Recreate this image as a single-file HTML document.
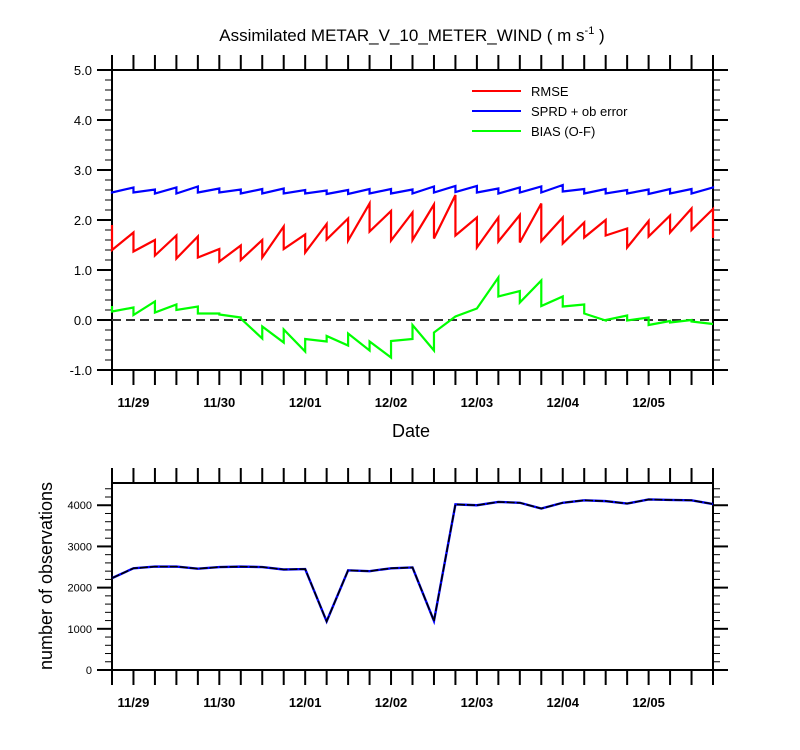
<!DOCTYPE html>
<html><head><meta charset="utf-8"><style>
body{margin:0;background:#fff}
svg{display:block;font-family:"Liberation Sans",Arial,sans-serif}
</style></head><body>
<svg id="chart" width="800" height="750" viewBox="0 0 800 750">
<text x="412" y="41" text-anchor="middle" font-size="17">Assimilated METAR_V_10_METER_WIND ( m s<tspan font-size="11" dy="-7">-1</tspan><tspan dy="7"> )</tspan></text>
<g id="topPanel"></g>
<g id="botPanel"></g>
<text x="411" y="437" text-anchor="middle" font-size="18">Date</text>
<text transform="translate(52,576) rotate(-90)" text-anchor="middle" font-size="18">number of observations</text>
<g>
<line x1="472" y1="91" x2="521" y2="91" stroke="#ff0000" stroke-width="2"/>
<text x="531" y="96" font-size="13">RMSE</text>
<line x1="472" y1="111" x2="521" y2="111" stroke="#0000ff" stroke-width="2"/>
<text x="531" y="116" font-size="13">SPRD + ob error</text>
<line x1="472" y1="131" x2="521" y2="131" stroke="#00ff00" stroke-width="2"/>
<text x="531" y="136" font-size="13">BIAS (O-F)</text>
</g>
</svg>
<script>
const dateLabels=["11/29","11/30","12/01","12/02","12/03","12/04","12/05"];
const rmsePrior=[1.9,1.75,1.6,1.69,1.67,1.42,1.49,1.6,1.87,1.71,1.92,2.03,2.33,2.18,2.15,2.31,2.5,2.05,2.05,2.1,2.33,2.05,1.95,2.0,1.83,1.98,2.09,2.23,2.22];
const rmsePost=[1.4,1.37,1.29,1.23,1.25,1.17,1.2,1.25,1.42,1.35,1.61,1.59,1.77,1.59,1.6,1.63,1.69,1.45,1.57,1.55,1.58,1.53,1.65,1.69,1.45,1.67,1.75,1.8,1.64];
const sprdPrior=[2.57,2.65,2.61,2.65,2.67,2.63,2.61,2.62,2.63,2.6,2.59,2.6,2.62,2.62,2.61,2.67,2.68,2.68,2.63,2.65,2.67,2.7,2.62,2.62,2.6,2.61,2.62,2.62,2.65];
const sprdPost=[2.55,2.55,2.53,2.53,2.55,2.55,2.53,2.53,2.53,2.53,2.52,2.52,2.53,2.53,2.53,2.55,2.56,2.55,2.53,2.55,2.55,2.57,2.53,2.53,2.53,2.52,2.53,2.53,2.63];
const biasPrior=[0.28,0.25,0.37,0.31,0.27,0.13,0.05,-0.37,-0.45,-0.63,-0.43,-0.51,-0.61,-0.75,-0.38,-0.61,0.07,0.23,0.85,0.58,0.79,0.47,0.31,-0.01,0.09,0.05,-0.02,0,-0.08];
const biasPost=[0.17,0.1,0.15,0.2,0.13,0.11,0.03,-0.13,-0.19,-0.38,-0.32,-0.27,-0.43,-0.42,-0.1,-0.25,0.07,0.23,0.47,0.35,0.28,0.27,0.13,0,-0.01,-0.1,-0.05,-0.03,-0.08];
const obsCount=[2230,2470,2510,2510,2460,2500,2510,2500,2440,2450,1180,2420,2400,2470,2490,1190,4020,4000,4080,4060,3920,4060,4120,4100,4040,4140,4130,4120,4030];
const yTopTicks=[-1,0,1,2,3,4,5];
const yBotTicks=[0,1000,2000,3000,4000];

const NS="http://www.w3.org/2000/svg";
const X0=112,X1=713,NT=29;
const xs=i=>X0+(X1-X0)*i/(NT-1);
const yTop=v=>320-50*v;
const yBot=v=>670-v*(670-483)/4540;
function mk(parent,tag,attrs){const e=document.createElementNS(NS,tag);for(const k in attrs)e.setAttribute(k,attrs[k]);parent.appendChild(e);return e;}
const topG=document.getElementById('topPanel'),botG=document.getElementById('botPanel');

function xAxis(g,yb,yt){
  for(let i=0;i<NT;i++){
    const x=xs(i);
    const t1=mk(g,'line',{x1:x,y1:yt,x2:x,y2:yt-15,stroke:'#000','stroke-width':2});
    
    
    const t2=mk(g,'line',{x1:x,y1:yb,x2:x,y2:yb+15,stroke:'#000','stroke-width':2});
    
    
  }
  dateLabels.forEach((d,k)=>{
    const t=mk(g,'text',{x:xs(1+4*k),y:yb+37,'text-anchor':'middle','font-size':13,'font-weight':'bold'});
    t.textContent=d;
    
    
  });
}
function frame(g,yt,yb){
  const r=mk(g,'rect',{x:X0,y:yt,width:X1-X0,height:yb-yt,fill:'none',stroke:'#000','stroke-width':2});
  
  
}
// top panel
frame(topG,70,370);
xAxis(topG,370,70);
for(let k=0;k<=30;k++){
  const v=-1+k*0.2;
  const y=yTop(v);const major=k%5===0;const L=major?15:7;
  const a=mk(topG,'line',{x1:X0-L,y1:y,x2:X0,y2:y,stroke:'#000','stroke-width':major?2:1});
  
  
  const b=mk(topG,'line',{x1:X1,y1:y,x2:X1+L,y2:y,stroke:'#000','stroke-width':major?2:1});
  
  
}
yTopTicks.forEach(v=>{
  const t=mk(topG,'text',{x:92,y:yTop(v)+5,'text-anchor':'end','font-size':13});
  t.textContent=v.toFixed(1);
  
  
});
const zl=mk(topG,'line',{x1:X0,y1:yTop(0),x2:X1,y2:yTop(0),stroke:'#333','stroke-width':2,'stroke-dasharray':'9,5'});


function saw(pr,po){const p=[];for(let i=0;i<NT;i++){p.push(xs(i)+','+yTop(pr[i]));p.push(xs(i)+','+yTop(po[i]));}return p.join(' ');}
[[sprdPrior,sprdPost,'#0000ff','sprd-line'],[rmsePrior,rmsePost,'#ff0000','rmse-line'],[biasPrior,biasPost,'#00ff00','bias-line']].forEach(s=>{
  const l=mk(topG,'polyline',{points:saw(s[0],s[1]),fill:'none',stroke:s[2],'stroke-width':2.2,'stroke-linejoin':'miter'});
  
  
});
// bottom panel
frame(botG,483,670);
xAxis(botG,670,483);
for(let v=0;v<=4540;v+=200){
  const y=yBot(v);const major=v%1000===0;const L=major?15:7;
  const a=mk(botG,'line',{x1:X0-L,y1:y,x2:X0,y2:y,stroke:'#000','stroke-width':major?2:1});
  
  
  const b=mk(botG,'line',{x1:X1,y1:y,x2:X1+L,y2:y,stroke:'#000','stroke-width':major?2:1});
  
  
}
yBotTicks.forEach(v=>{
  const t=mk(botG,'text',{x:92,y:yBot(v)+4,'text-anchor':'end','font-size':11});
  t.textContent=v;
  
  
});
const pts=obsCount.map((v,i)=>xs(i)+','+yBot(v)).join(' ');
const ob=mk(botG,'polyline',{points:pts,fill:'none',stroke:'#0000ff','stroke-width':2.4});


const ob2=mk(botG,'polyline',{points:pts,fill:'none',stroke:'#000','stroke-width':1.6,'stroke-dasharray':'8,2'});


</script>
</body></html>
